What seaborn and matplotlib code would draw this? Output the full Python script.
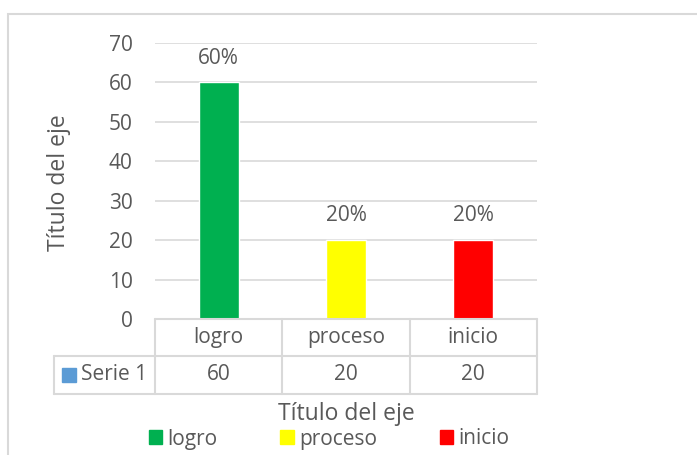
import matplotlib
matplotlib.use("Agg")
import matplotlib.pyplot as plt
from matplotlib.patches import Rectangle
import pandas as pd
import seaborn as sns

# Data
categorias = ["logro", "proceso", "inicio"]
valores = [60, 20, 20]
porcentajes = ["60%", "20%", "20%"]
colores = ["#00b050", "#ffff00", "#ff0000"]
serie = "Serie 1"
y_ticks = [0, 10, 20, 30, 40, 50, 60, 70]

sns.set_theme(style="white")
plt.rcParams["font.family"] = ["Open Sans", "DejaVu Sans"]
gris = "#595959"
linea = "#d9d9d9"
fs = 15

df = pd.DataFrame({"categoria": categorias, "valor": valores})

fig = plt.figure(figsize=(6.97, 4.55), dpi=100)
ax = fig.add_axes([155 / 697, 1 - 319 / 455, 382 / 697, 276 / 455])

sns.barplot(data=df, x="categoria", y="valor", hue="categoria",
            palette=colores, width=0.314, legend=False, ax=ax, saturation=1)

for cont, lab in zip(ax.containers, porcentajes):
    ax.bar_label(cont, labels=[lab], padding=10, fontsize=fs, color=gris)

ax.set_xlim(-0.5, 2.5)
ax.set_ylim(0, 70)
ax.set_yticks(y_ticks)
ax.set_yticklabels([str(t) for t in y_ticks], fontsize=fs, color=gris)
ax.tick_params(axis="y", length=0, pad=16)
ax.set_xticks([])
ax.set_xlabel("")
ax.set_ylabel("")
ax.yaxis.grid(True, color=linea, linewidth=1.2)
ax.set_axisbelow(True)
for s in ax.spines.values():
    s.set_visible(False)

# data table below the plot
px = 382 / 3          # pixels per category
h1 = 37 / 276
h2 = 75 / 276
x_left = -0.5 - 101 / px
tr = ax.get_xaxis_transform()
kw = dict(color=linea, linewidth=1.5, transform=tr, clip_on=False)
ax.plot([-0.5, 2.5], [0, 0], **kw)
ax.plot([x_left, 2.5], [-h1, -h1], **kw)
ax.plot([x_left, 2.5], [-h2, -h2], **kw)
ax.plot([x_left, x_left], [-h1, -h2], **kw)
for i in range(len(categorias) + 1):
    ax.plot([i - 0.5, i - 0.5], [0, -h2], **kw)
y_row2 = -(h1 + h2) / 2
for i, (c, v) in enumerate(zip(categorias, valores)):
    ax.text(i, -h1 / 2, c, transform=tr, ha="center", va="center",
            fontsize=fs, color=gris)
    ax.text(i, y_row2, str(v), transform=tr, ha="center", va="center",
            fontsize=fs, color=gris)
ax.add_patch(Rectangle((-0.5 - 93 / px, y_row2 - 7 / 276), 14 / px, 14 / 276,
                       transform=tr, clip_on=False, color="#5b9bd5"))
ax.text(-0.5 - 74 / px, y_row2, serie, transform=tr, ha="left",
        va="center", fontsize=fs, color=gris)

# axis titles
fig.text(346 / 697, 1 - 414 / 455, "Título del eje", ha="center", va="center",
         fontsize=16.5, color=gris)
fig.text(59 / 697, 1 - 183 / 455, "Título del eje", ha="center", va="center",
         rotation=90, fontsize=16.5, color=gris)

# legend
handles = [Rectangle((0, 0), 1, 1, color=c) for c in colores]
fig.legend(handles, categorias, loc="center", bbox_to_anchor=(329 / 697, 1 - 439 / 455),
           ncol=3, frameon=False, fontsize=fs, labelcolor=gris,
           handlelength=0.67, handleheight=0.67, handletextpad=0.24,
           columnspacing=3.0, borderpad=0, borderaxespad=0)

# chart area border
fig.patches.append(Rectangle((8 / 697, -0.1), 1.2, 1.1 - 14 / 455,
                             transform=fig.transFigure, fill=False,
                             edgecolor=linea, linewidth=1.5))

fig.savefig("out.png", dpi=100)
